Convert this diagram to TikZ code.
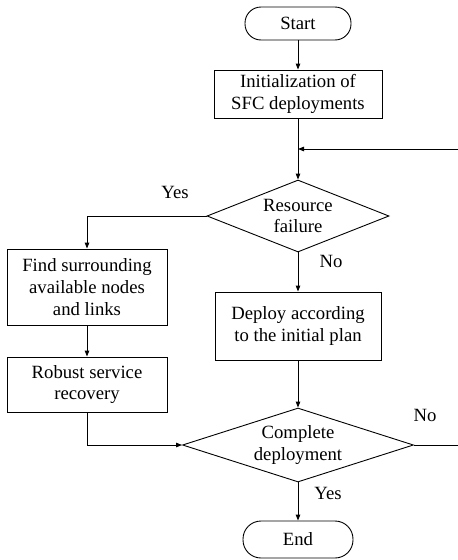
\documentclass[tikz,border=0pt]{standalone}
\usepackage{fontspec}
\setmainfont{Liberation Serif}
\usetikzlibrary{arrows.meta,shapes.geometric,calc}
\begin{document}
\begin{tikzpicture}[x=1pt,y=1pt,
  font=\fontsize{18.7}{21.7}\selectfont,
  every node/.style={align=center},
  box/.style={draw,line width=0.9pt,rectangle,inner sep=0pt},
  term/.style={draw,line width=0.9pt,rectangle,rounded corners=16pt,inner sep=0pt},
  dec/.style={draw,line width=0.9pt,diamond,inner sep=0pt},
  lbl/.style={inner sep=0pt},
  arr/.style={line width=0.9pt,-{Triangle[length=6pt,width=4.5pt]}},
  ln/.style={line width=0.9pt}]
\useasboundingbox (0,0) rectangle (458,-560);
\node[term,minimum width=106pt,minimum height=33pt] (start) at (298,-23.5) {Start};
\node[box,minimum width=168pt,minimum height=48pt] (init) at (298,-94) {Initialization of\\SFC deployments};
\node[dec,minimum width=182pt,minimum height=72pt] (d1) at (298,-216) {};
\node[lbl] (d1t) at (d1.center) {Resource\\failure};
\node[box,minimum width=160pt,minimum height=76pt] (find) at (87,-287) {Find surrounding\\available nodes\\and links};
\node[box,minimum width=160pt,minimum height=55pt] (robust) at (87,-384.5) {Robust service\\recovery};
\node[box,minimum width=166pt,minimum height=68pt] (deploy) at (298,-326) {Deploy according\\to the initial plan};
\node[dec,minimum width=231pt,minimum height=74pt] (d2) at (298,-445) {};
\node[lbl] (d2t) at (d2.center) {Complete\\deployment};
\node[term,minimum width=110pt,minimum height=37pt,rounded corners=18pt] (end) at (298,-539.5) {End};
\node[lbl] (yes1) at (175,-192) {Yes};
\node[lbl] (no1) at (331,-261) {No};
\node[lbl] (no2) at (425,-415) {No};
\node[lbl] (yes2) at (328,-493) {Yes};
\coordinate (fbR) at (458,-149);
\coordinate (noR) at (458,-445);
\draw[arr] (start) -- (init);
\draw[arr] (init) -- (d1);
\draw[arr] (fbR) -- (fbR -| d1.north);
\draw[arr] (d1.west) -| (find.north);
\draw[arr] (d1.south) -- (deploy.north);
\draw[arr] (find) -- (robust);
\draw[arr] (robust.south) |- (d2.west);
\draw[arr] (deploy.south) -- (d2.north);
\draw[ln] (d2.east) -- (noR);
\draw[arr] (d2.south) -- (end.north);
\end{tikzpicture}
\end{document}
